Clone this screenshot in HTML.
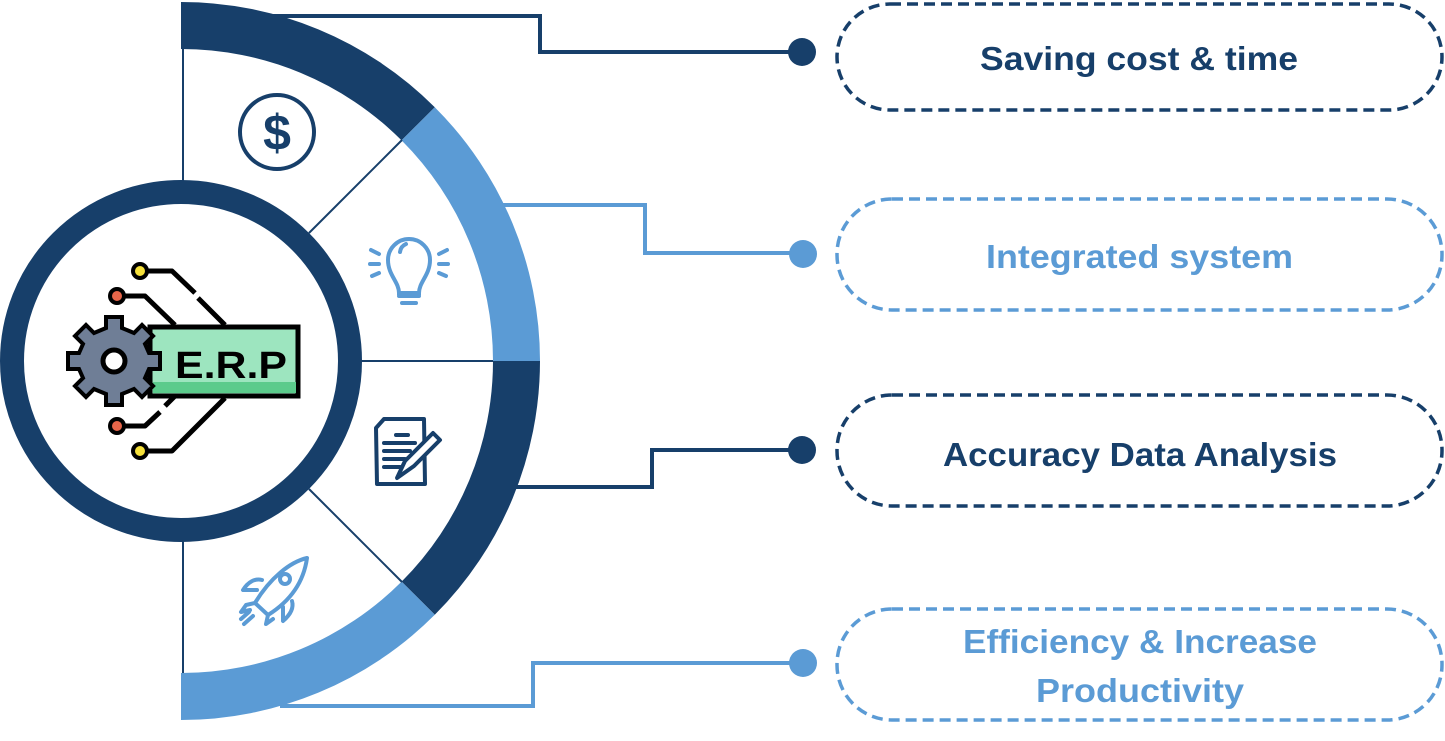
<!DOCTYPE html>
<html><head><meta charset="utf-8"><style>
html,body{margin:0;padding:0;background:#fff;}
svg{display:block;}
text{font-family:"Liberation Sans",sans-serif;font-weight:bold;}
</style></head><body>
<svg width="1445" height="741" viewBox="0 0 1445 741" xmlns="http://www.w3.org/2000/svg">
<defs></defs>
<!-- connectors -->
<g fill="none" stroke-width="4">
<polyline points="270,16 540,16 540,52 800,52" stroke="#173f6a"/>
<polyline points="500,205 645,205 645,253 800,253" stroke="#5b9bd5"/>
<polyline points="510,487 652,487 652,450 800,450" stroke="#173f6a"/>
<polyline points="280,706 533,706 533,663 800,663" stroke="#5b9bd5"/>
</g>
<circle cx="802" cy="52" r="14" fill="#173f6a"/>
<circle cx="803" cy="254" r="14" fill="#5b9bd5"/>
<circle cx="802" cy="450" r="14" fill="#173f6a"/>
<circle cx="803" cy="663" r="14" fill="#5b9bd5"/>
<!-- big arc segments: center (181,361), R 359 outer, 312 inner -->
<g>
<path d="M181,2 A359,359 0 0 1 434.8,107.2 L401.6,140.4 A312,312 0 0 0 181,49 Z" fill="#173f6a"/>
<path d="M434.8,107.2 A359,359 0 0 1 540,361 L493,361 A312,312 0 0 0 401.6,140.4 Z" fill="#5b9bd5"/>
<path d="M540,361 A359,359 0 0 1 434.8,614.8 L401.6,581.6 A312,312 0 0 0 493,361 Z" fill="#173f6a"/>
<path d="M434.8,614.8 A359,359 0 0 1 181,720 L181,673 A312,312 0 0 0 401.6,581.6 Z" fill="#5b9bd5"/>
</g>
<g stroke="#173f6a" stroke-width="2">
<line x1="183" y1="49" x2="183" y2="182"/>
<line x1="183" y1="540" x2="183" y2="673"/>
<line x1="309" y1="233" x2="402" y2="140"/>
<line x1="309" y1="489" x2="402" y2="582"/>
<line x1="360" y1="361" x2="493" y2="361"/>
</g>
<!-- inner circle -->
<circle cx="181" cy="361" r="169" fill="#fff" stroke="#173f6a" stroke-width="24"/>
<!-- ERP icon -->
<g stroke="#000" stroke-width="5" fill="none" stroke-linejoin="round">
<polyline points="148,271 172,271 195,293"/>
<polyline points="198,298 225,325"/>
<polyline points="125,296 145,296 175,325"/>
<polyline points="148,451 172,451 225,398"/>
<polyline points="125,426 145,426 160,412"/>
<polyline points="165,406 175,396"/>
</g>
<circle cx="140" cy="271" r="7" fill="#f5e03a" stroke="#000" stroke-width="4"/>
<circle cx="117" cy="296" r="7" fill="#e8664a" stroke="#000" stroke-width="4"/>
<circle cx="140" cy="451" r="7" fill="#f5e03a" stroke="#000" stroke-width="4"/>
<circle cx="117" cy="426" r="7" fill="#e8664a" stroke="#000" stroke-width="4"/>
<rect x="150" y="327" width="148" height="69" fill="#9de5bf" stroke="#000" stroke-width="5"/>
<rect x="153" y="382" width="143" height="11" fill="#5ccb8c"/>
<text x="175" y="378" font-size="38" fill="#000" font-family="Liberation Mono" textLength="112" lengthAdjust="spacingAndGlyphs">E.R.P</text>
<g transform="translate(114,361)">
<g fill="#6f7e96" stroke="#000" stroke-width="4">
<path d="M-8,-44 L8,-44 L8,-33 L20,-28 L28,-36 L39,-25 L31,-17 L35,-8 L46,-8 L46,8 L35,8 L31,17 L39,25 L28,36 L20,28 L8,33 L8,44 L-8,44 L-8,33 L-20,28 L-28,36 L-39,25 L-31,17 L-35,8 L-46,8 L-46,-8 L-35,-8 L-31,-17 L-39,-25 L-28,-36 L-20,-28 L-8,-33 Z"/>
</g>
<circle r="11" fill="#fff" stroke="#000" stroke-width="5"/>
</g>
<!-- dollar icon -->
<circle cx="277" cy="132" r="37" fill="none" stroke="#173f6a" stroke-width="4"/>
<text x="277" y="150" font-size="50" fill="#173f6a" text-anchor="middle">$</text>
<!-- bulb icon -->
<g stroke="#5b9bd5" stroke-width="4" fill="none" stroke-linecap="round">
<path d="M399,293 C399,282 388,275 388,260 A21,21 0 0 1 430,260 C430,275 419,282 419,293 Z"/>
<path d="M400,252 A10,10 0 0 1 406,244"/>
<line x1="399" y1="296" x2="419" y2="296"/><line x1="402" y1="303" x2="416" y2="303"/>
<line x1="371" y1="250" x2="379" y2="254"/><line x1="370" y1="264" x2="379" y2="264"/><line x1="372" y1="276" x2="379" y2="273"/>
<line x1="447" y1="250" x2="439" y2="254"/><line x1="448" y1="264" x2="439" y2="264"/><line x1="446" y1="276" x2="439" y2="273"/>
</g>
<!-- document icon -->
<g stroke="#173f6a" stroke-width="4" fill="none" stroke-linecap="round" stroke-linejoin="round">
<path d="M384,419 L424,419 L425,484 L377,484 L376,428 Z"/>
<line x1="396" y1="435" x2="408" y2="435"/>
<line x1="384" y1="443" x2="415" y2="443"/><line x1="384" y1="451" x2="410" y2="451"/><line x1="384" y1="459" x2="405" y2="459"/><line x1="384" y1="467" x2="400" y2="467"/>
<path d="M433,433 L440,440 L414,466 L397,478 L405,461 Z" fill="#fff"/>
</g>
<!-- rocket icon -->
<g stroke="#5b9bd5" stroke-width="4" fill="none" stroke-linecap="round" stroke-linejoin="round">
<path d="M307,558 C290,562 270,578 255,603 L268,615 C292,600 304,580 307,558 Z"/>
<path d="M255,603 L246,605 L241,612 L250,610"/>
<path d="M268,615 L266,624 L273,619"/>
<circle cx="285" cy="579" r="5"/>
<path d="M262,580 C255,578 248,582 243,590 L257,590"/>
<path d="M292,601 C294,608 290,615 283,621 L283,607"/>
<line x1="249" y1="612" x2="241" y2="619"/><line x1="253" y1="616" x2="244" y2="624"/>
</g>
<!-- pills -->
<g fill="none" stroke-width="3.5" stroke-dasharray="11 6">
<rect x="837" y="4" width="605" height="106" rx="53" stroke="#173f6a"/>
<rect x="837" y="199" width="605" height="111" rx="55" stroke="#5b9bd5"/>
<rect x="837" y="395" width="605" height="111" rx="55" stroke="#173f6a"/>
<rect x="837" y="609" width="605" height="111" rx="55" stroke="#5b9bd5"/>
</g>
<text x="980" y="70" font-size="33" fill="#173f6a" textLength="318" lengthAdjust="spacingAndGlyphs">Saving cost &amp; time</text>
<text x="986" y="268" font-size="33" fill="#5b9bd5" textLength="307" lengthAdjust="spacingAndGlyphs">Integrated system</text>
<text x="943" y="466" font-size="33" fill="#173f6a" textLength="394" lengthAdjust="spacingAndGlyphs">Accuracy Data Analysis</text>
<text x="963" y="653" font-size="33" fill="#5b9bd5" textLength="354" lengthAdjust="spacingAndGlyphs">Efficiency &amp; Increase</text>
<text x="1036" y="702" font-size="33" fill="#5b9bd5" textLength="208" lengthAdjust="spacingAndGlyphs">Productivity</text>
</svg>
</body></html>
